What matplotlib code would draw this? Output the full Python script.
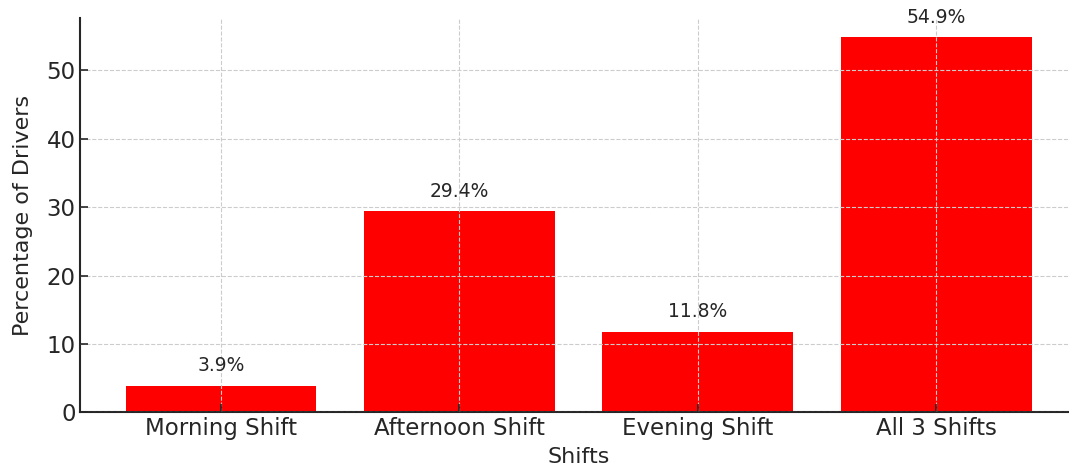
import matplotlib
matplotlib.use("Agg")
import matplotlib.pyplot as plt

categories = ["Morning Shift", "Afternoon Shift", "Evening Shift", "All 3 Shifts"]
values = [3.9, 29.4, 11.8, 54.9]

TXT = "#262626"
plt.rcParams['text.color'] = TXT
plt.rcParams['axes.labelcolor'] = TXT
plt.rcParams['xtick.color'] = TXT
plt.rcParams['ytick.color'] = TXT

fig = plt.figure(figsize=(10.69, 4.67), dpi=100)
ax = fig.add_axes([0.0753, 0.117, 0.932, 0.844])
bars = ax.bar(categories, values, color="red", width=0.8)
for b, v in zip(bars, values):
    ax.text(b.get_x() + b.get_width() / 2, v + 1.5, f"{v}%", ha="center", va="bottom", fontsize=13.5)

ax.set_xlabel("Shifts", fontsize=16, labelpad=5)
ax.set_ylabel("Percentage of Drivers", fontsize=16, labelpad=10)
ax.tick_params(axis="both", labelsize=16.5, direction="in", length=6, width=1.2)
ax.grid(True, linestyle="--", color="#cccccc", linewidth=0.8, zorder=3)
ax.set_axisbelow(False)
for s in ["top", "right"]:
    ax.spines[s].set_visible(False)
for s in ["left", "bottom"]:
    ax.spines[s].set_color(TXT)
    ax.spines[s].set_linewidth(1.5)

fig.savefig("out.png", dpi=100)
